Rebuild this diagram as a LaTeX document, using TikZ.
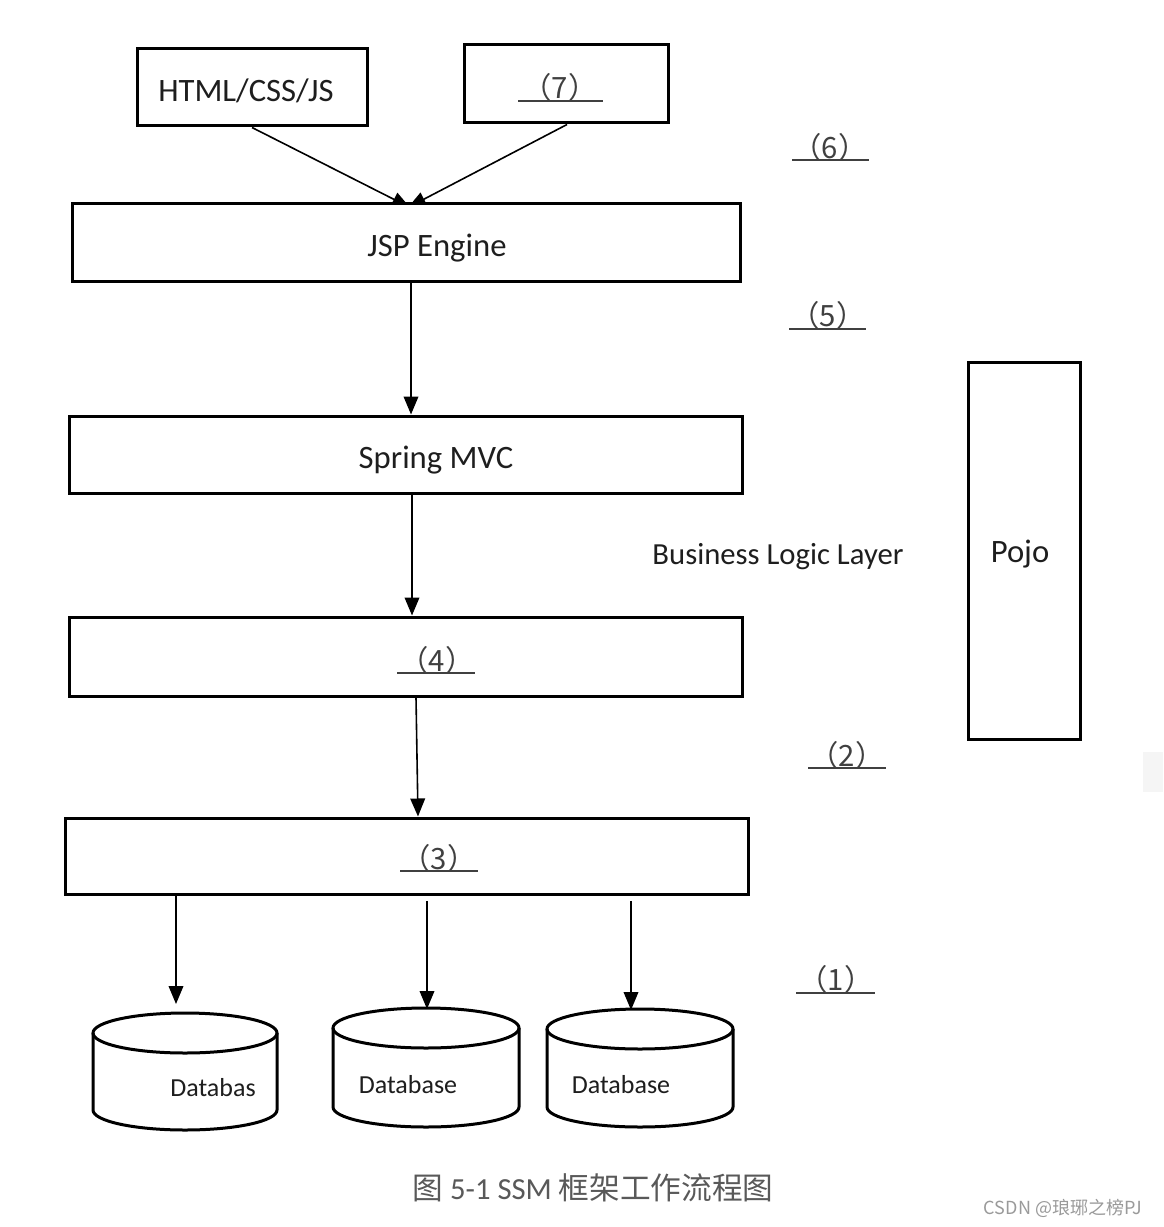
\documentclass[tikz,border=0pt]{standalone}
\usepackage{fontspec}
\setmainfont{Carlito}
\newfontfamily\cjk{Noto Sans CJK SC}
\usetikzlibrary{arrows.meta}
\definecolor{capgray}{HTML}{595959}
\definecolor{wmgray}{HTML}{9A9A9A}
\definecolor{txt}{HTML}{1E1E1E}
\definecolor{faint}{HTML}{F5F5F5}
\begin{document}
\begin{tikzpicture}[x=0.75pt,y=-0.75pt,
  box/.style={draw, line width=2.25pt, inner sep=0pt},
  btext/.style={font=\fontsize{24.5}{28}\selectfont, text=txt, inner sep=0pt, anchor=base},
  dbtext/.style={font=\fontsize{19.5}{23}\selectfont, text=txt, inner sep=0pt, anchor=base},
  num/.style={font=\cjk\fontsize{22}{26}\selectfont, text=txt!85, inner sep=0pt},
  uline/.style={line width=1.1pt, draw=txt!85},
  arr/.style={-{Triangle[length=13.5pt,width=11pt]}, line width=1.2pt},
  dbline/.style={line width=2.25pt}]
\fill[white] (0,0) rectangle (1163,1227);
\useasboundingbox (0,0) rectangle (1163,1227);
\fill[faint] (1143,752) rectangle (1163,792);

% boxes
\node[box, minimum width=172.5pt, minimum height=57.75pt] (html) at (252,87.5) {};
\node[box, minimum width=153pt, minimum height=58.5pt] (b7) at (566,84) {};
\node[box, minimum width=501pt, minimum height=58.5pt] (jsp) at (406,242) {};
\node[box, minimum width=504.75pt, minimum height=57.75pt] (spring) at (405.5,454.5) {};
\node[box, minimum width=504.75pt, minimum height=59.25pt] (b4) at (405.5,656.5) {};
\node[box, minimum width=512.25pt, minimum height=57pt] (b3) at (406.5,856) {};
\node[box, minimum width=84pt, minimum height=282.75pt] (pojo) at (1024,550.5) {};

% box texts
\node[btext] (thtml) at (246,102) {HTML/CSS/JS};
\node[btext] (tjsp) at (437,256) {JSP Engine};
\node[btext] (tspring) at (436,468) {Spring MVC};
\node[btext] (tpojo) at (1020,562) {Pojo};
\node[btext, font=\fontsize{23}{27}\selectfont] (tbll) at (778,564) {Business Logic Layer};

% numbered labels
\node[num] (t7) at (560,87) {（7）};
\draw[uline] (518,101) -- (603,101);
\node[num] (t6) at (830,147) {（6）};
\draw[uline] (792,160) -- (869,160);
\node[num] (t5) at (828,315) {（5）};
\draw[uline] (789,329) -- (866,329);
\node[num] (t4) at (437,660) {（4）};
\draw[uline] (397,673) -- (475,673);
\node[num] (t2) at (847,755) {（2）};
\draw[uline] (808,768) -- (886,768);
\node[num] (t3) at (439,858) {（3）};
\draw[uline] (400,871) -- (478,871);
\node[num] (t1) at (836,979) {（1）};
\draw[uline] (796,993) -- (875,993);

% databases
\draw[dbline] (93,1033) -- (93,1110) arc[start angle=180, end angle=0, x radius=92, y radius=20] -- (277,1033);
\draw[dbline] (185,1033) ellipse [x radius=92, y radius=20];
\coordinate (db1) at (176,1004);
\draw[dbline] (333,1028) -- (333,1107) arc[start angle=180, end angle=0, x radius=93, y radius=20] -- (519,1028);
\draw[dbline] (426,1028) ellipse [x radius=93, y radius=20];
\coordinate (db2) at (427,1009);
\draw[dbline] (547,1029) -- (547,1107) arc[start angle=180, end angle=0, x radius=93, y radius=20] -- (733,1029);
\draw[dbline] (640,1029) ellipse [x radius=93, y radius=20];
\coordinate (db3) at (631,1010);
\node[dbtext] (tdb1) at (213,1096) {Databas};
\node[dbtext] (tdb2) at (408,1093) {Database};
\node[dbtext] (tdb3) at (621,1093) {Database};

% connectors
\begin{scope}
  \clip (0,0) rectangle (1163,202);
  \draw[arr] (html.south -| 252,0) -- ([yshift=-4.5pt]jsp.north -| 410,0);
  \draw[arr] (b7.south -| 567,0) -- ([yshift=-4.5pt]jsp.north -| 408,0);
\end{scope}
\draw[arr] (jsp.south -| 411,0) -- (spring.north -| 411,0);
\draw[arr] (spring.south -| 412,0) -- (b4.north -| 412,0);
\draw[arr] (b4.south -| 416,0) -- (b3.north -| 418,0);
\draw[arr] (b3.south -| db1) -- (db1);
\draw[arr, shorten <=4pt] (b3.south -| db2) -- (db2);
\draw[arr, shorten <=4pt] (b3.south -| db3) -- (db3);

% caption and watermark
\node[font=\fontsize{23}{27}\selectfont, text=capgray, inner sep=0pt] (cap) at (593,1188)
  {{\cjk 图} 5-1 SSM {\cjk 框架工作流程图}};
\node[font=\cjk\fontsize{13.5}{16}\selectfont, text=wmgray, inner sep=0pt] (wm) at (1063,1208)
  {CSDN @琅琊之榜PJ};
\end{tikzpicture}
\end{document}
